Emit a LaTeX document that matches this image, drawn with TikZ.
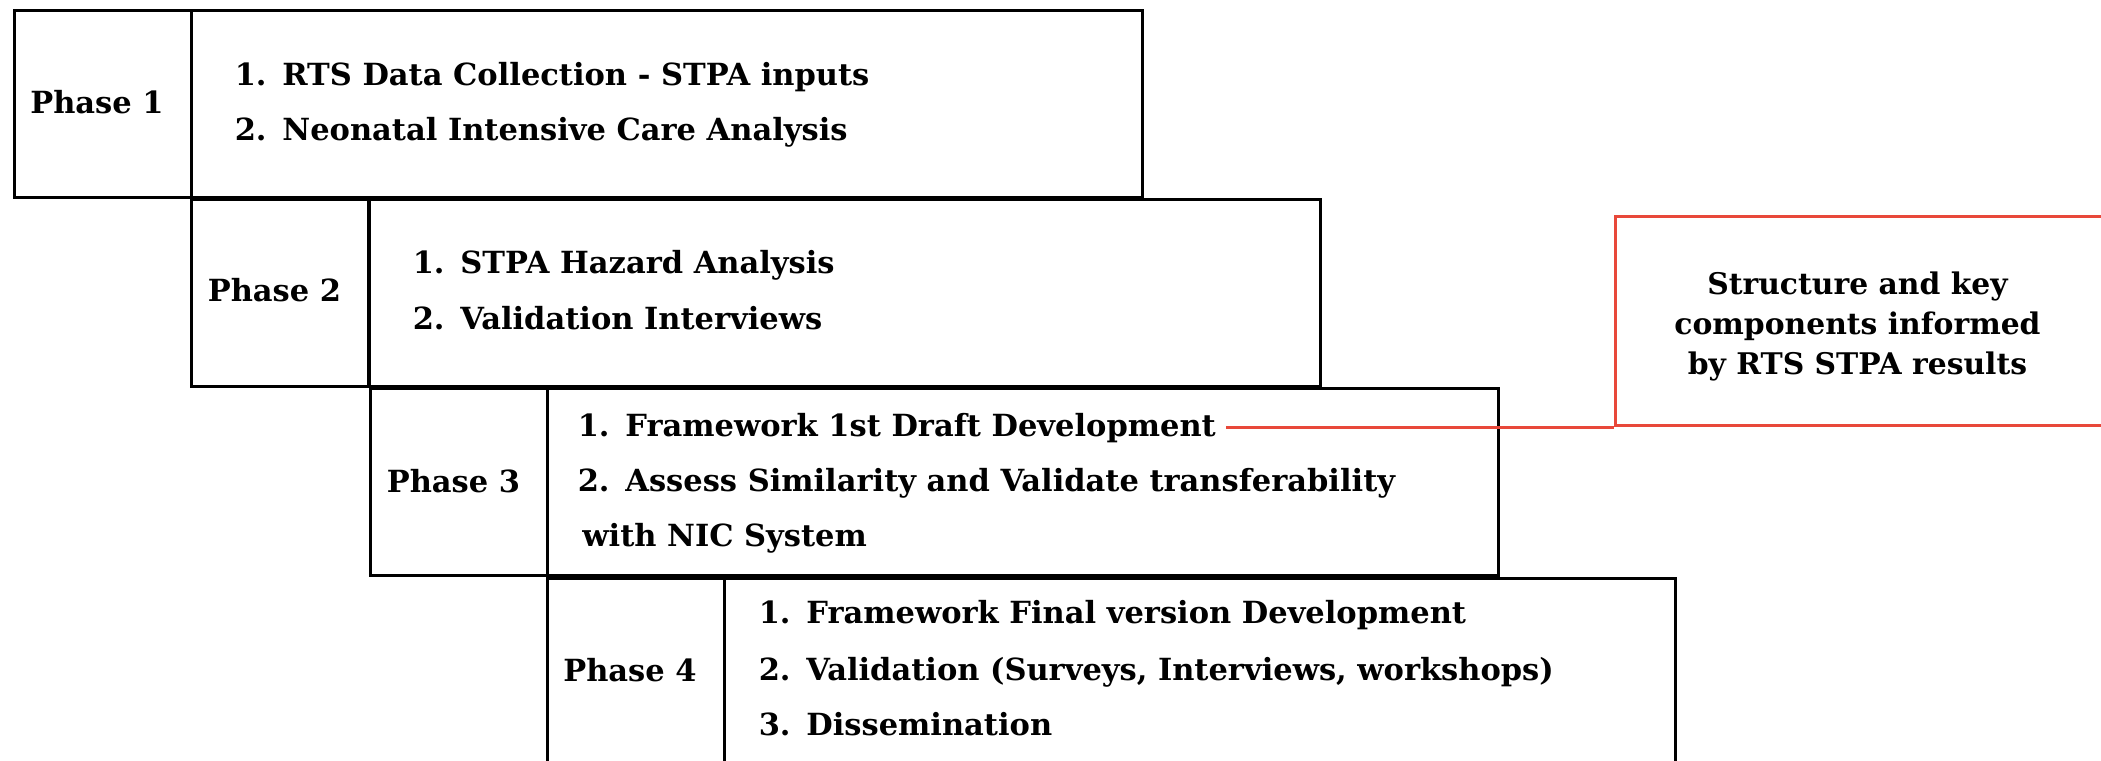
\documentclass[tikz,border=0pt]{standalone}
\usepackage{fontspec}
\setmainfont{DejaVu Serif}
\usetikzlibrary{calc}
\definecolor{redc}{RGB}{232,72,58}
\newcommand{\phfont}{\bfseries\fontsize{15.25pt}{20pt}\selectfont}
\newcommand{\rdfont}{\bfseries\fontsize{14.9pt}{20pt}\selectfont}
\begin{document}
\begin{tikzpicture}[x=0.5pt,y=-0.5pt,
  box/.style={draw=black, line width=1.5pt, inner sep=0pt, anchor=north west, minimum height=93.5pt},
  labbox/.style={box, minimum width=88.5pt},
  conbox/.style={box, minimum width=475.5pt},
  lbl/.style={inner sep=0pt, anchor=base, font=\phfont},
  num/.style={inner sep=0pt, anchor=base east, font=\phfont},
  item/.style={inner sep=0pt, anchor=base west, font=\phfont},
  redbox/.style={draw=redc, line width=1.5pt, anchor=south west, minimum width=246pt, minimum height=104.5pt, inner sep=0pt},
  redtext/.style={align=center, font=\rdfont, inner sep=0pt},
  redline/.style={draw=redc, line width=1.5pt}
]
\useasboundingbox (0,0) rectangle (2101,761);
\clip (0,0) rectangle (2101,761);

% Phase 1
\node[labbox] (l1) at (12.5,9) {};
\node[conbox] (c1) at (189.5,9) {};
\node[lbl] (p1) at (97,113) {Phase 1};
\node[num] (n11) at (267,85) {1.};
\node[item] (t11) at (282,85) {RTS Data Collection - STPA inputs};
\node[num] (n12) at (267,140) {2.};
\node[item] (t12) at (282,140) {Neonatal Intensive Care Analysis};

% Phase 2
\node[labbox] (l2) at (189.5,198) {};
\node[conbox] (c2) at (367.5,198) {};
\node[lbl] (p2) at (274.5,301) {Phase 2};
\node[num] (n21) at (445,273) {1.};
\node[item] (t21) at (460,273) {STPA Hazard Analysis};
\node[num] (n22) at (445,329) {2.};
\node[item] (t22) at (460,329) {Validation Interviews};

% Phase 3
\node[labbox] (l3) at (368.5,387) {};
\node[conbox] (c3) at (545.5,387) {};
\node[lbl] (p3) at (453.5,492) {Phase 3};
\node[num] (n31) at (610,436) {1.};
\node[item] (t31) at (625,436) {Framework 1st Draft Development};
\node[num] (n32) at (610,491) {2.};
\node[item] (t32) at (625,491) {Assess Similarity and Validate transferability};
\node[item] (t33) at (582,546) {with NIC System};

% Phase 4
\node[labbox, minimum height=120pt] (l4) at (545.5,577) {};
\node[conbox, minimum height=120pt] (c4) at (722.5,577) {};
\node[lbl] (p4) at (630,681) {Phase 4};
\node[num] (n41) at (791,623) {1.};
\node[item] (t41) at (806,623) {Framework Final version Development};
\node[num] (n42) at (791,680) {2.};
\node[item] (t42) at (806,680) {Validation (Surveys, Interviews, workshops)};
\node[num] (n43) at (791,735) {3.};
\node[item] (t43) at (806,735) {Dissemination};

% Red annotation
\coordinate (rbx) at (1614,0);
\coordinate (lnstart) at ($(t31.base east)+(10,-9)$);
\node[redbox] (rb) at (lnstart -| rbx) {};
\node[redtext] (rt) at ($(rb.center)+(-4,5)$) {Structure and key\\components informed\\by RTS STPA results};
\draw[redline] (lnstart) -- (rb.south west);
\end{tikzpicture}
\end{document}
